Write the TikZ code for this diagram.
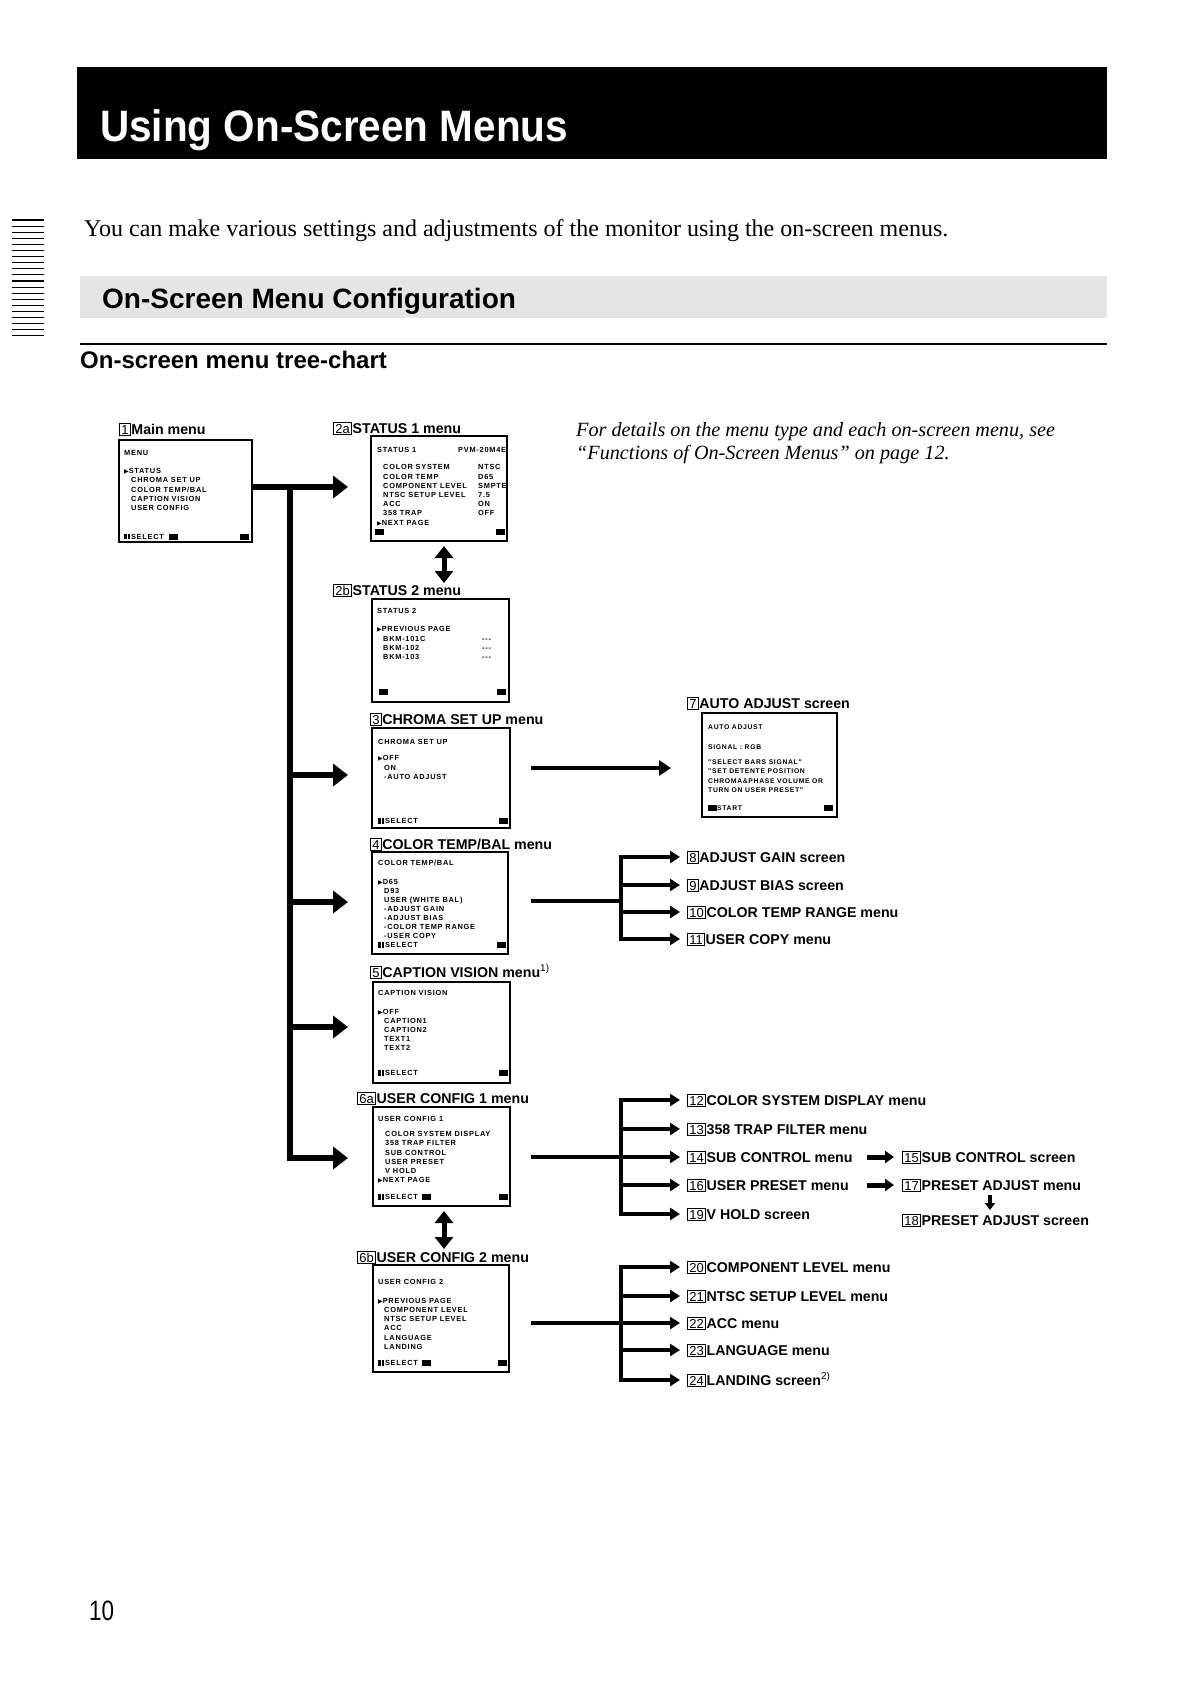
\documentclass[tikz,border=0pt]{standalone}
\usepackage{fontspec}
\usetikzlibrary{arrows.meta,calc}
\newfontfamily\lsans{Liberation Sans}
\newfontfamily\lserif{Liberation Serif}
\newfontfamily\scrf[LetterSpace=10]{Liberation Sans}
\newfontfamily\dvs{DejaVu Sans}
\newcommand\scrfont{\scrf\bfseries\fontsize{7.4}{7.4}\selectfont}
\newcommand\scrfontsm{\scrf\bfseries\fontsize{6.8}{6.8}\selectfont}
\newcommand\lblfont{\lsans\bfseries\fontsize{14.2}{14.2}\selectfont}
\newcommand\nb[1]{{\setlength\fboxsep{0pt}\setlength\fboxrule{0.7pt}\fbox{\rule[-1.4pt]{0pt}{11.6pt}\kern1.4pt{\lsans\mdseries\fontsize{13}{13}\selectfont #1}\kern1.4pt}}\kern0.8pt}
\newcommand\mk{{\dvs\fontsize{6}{6}\selectfont ▶}}
\newcommand\ico{\rule[-0.6pt]{9pt}{6pt}}
\newcommand\sel{\rule{2.8pt}{5.2pt}\kern0.6pt\rule{2.8pt}{5.2pt}\kern0.6pt}
\begin{document}
\begin{tikzpicture}[x=1pt,y=-1pt,
  scrbox/.style={draw, line width=1.1pt, anchor=north west, inner sep=0pt, outer sep=0pt},
  scr/.style={anchor=base west, inner sep=0pt, font=\scrfont},
  scrsm/.style={anchor=base west, inner sep=0pt, font=\scrfontsm},
  lbl/.style={anchor=base west, inner sep=0pt, font=\lblfont},
  trunk/.style={line width=6.5pt, -{Triangle[length=15pt,width=22pt]}},
  trunkline/.style={line width=6.5pt, line cap=rect},
  midarrow/.style={line width=4.5pt, -{Triangle[length=12pt,width=15pt]}},
  brline/.style={line width=4.5pt, line cap=rect},
  brfeed/.style={line width=4.5pt},
  brarrow/.style={line width=4pt, -{Triangle[length=10pt,width=12pt]}},
  sharrow/.style={line width=5pt, -{Triangle[length=9pt,width=12pt]}},
  dnarrow/.style={line width=3.5pt, -{Triangle[length=7pt,width=10pt]}},
  dbl/.style={line width=5pt, {Triangle[length=12pt,width=18pt]}-{Triangle[length=12pt,width=18pt]}}
]
\useasboundingbox (0,0) rectangle (1191,1683);
\fill[white] (0,0) rectangle (1191,1683);

% ---------- header ----------
\node[fill=black, minimum width=1030pt, minimum height=92pt, anchor=north west, inner sep=0pt] (titlebar) at (77,67) {};
\node[anchor=base west, inner sep=0pt, text=white, font=\lsans\bfseries\fontsize{44}{44}\selectfont] (title) at (100,142) {\scalebox{0.92}[1]{Using On-Screen Menus}};
\foreach \k in {0,...,19} \draw[line width=1.1pt] (12,{220+\k*6.1}) -- (44,{220+\k*6.1});
\node[anchor=base west, inner sep=0pt, font=\lserif\fontsize{24}{24}\selectfont] (intro) at (84,236) {You can make various settings and adjustments of the monitor using the on-screen menus.};
\node[fill=gray!20, minimum width=1027pt, minimum height=42pt, anchor=north west, inner sep=0pt] (confbar) at (80,276) {};
\node[anchor=base west, inner sep=0pt, font=\lsans\bfseries\fontsize{28}{28}\selectfont] (conf) at (102,308) {On-Screen Menu Configuration};
\draw[line width=1.4pt] (80,344) -- (1107,344);
\node[anchor=base west, inner sep=0pt, font=\lsans\bfseries\fontsize{24}{24}\selectfont] (sub) at (80,368) {On-screen menu tree-chart};
\node[anchor=base west, inner sep=0pt, font=\lserif\itshape\fontsize{20.2}{20.2}\selectfont] (it1) at (576,436) {For details on the menu type and each on-screen menu, see};
\node[anchor=base west, inner sep=0pt, font=\lserif\itshape\fontsize{20.2}{20.2}\selectfont] (it2) at (576,459) {“Functions of On-Screen Menus” on page 12.};
\node[anchor=base west, inner sep=0pt, font=\lsans\fontsize{28}{28}\selectfont] (pageno) at (89,1620) {\scalebox{0.8}[1]{10}};

% ---------- labels ----------
\node[lbl] (l1) at (119,434) {\nb{1}Main menu};
\node[lbl] (l2a) at (333,433) {\nb{2a}STATUS 1 menu};
\node[lbl] (l2b) at (333,595) {\nb{2b}STATUS 2 menu};
\node[lbl] (l3) at (370,724) {\nb{3}CHROMA SET UP menu};
\node[lbl] (l4) at (370,849) {\nb{4}COLOR TEMP/BAL menu};
\node[lbl] (l5) at (370,977) {\nb{5}CAPTION VISION menu\textsuperscript{\mdseries 1)}};
\node[lbl] (l6a) at (357,1103) {\nb{6a}USER CONFIG 1 menu};
\node[lbl] (l6b) at (357,1262) {\nb{6b}USER CONFIG 2 menu};
\node[lbl] (l7) at (687,708) {\nb{7}AUTO ADJUST screen};

% ---------- screens ----------
% 1 main menu
\node[scrbox, minimum width=133pt, minimum height=102pt] (m1) at (119,440) {};
\foreach \yv/\tv [count=\i] in {455/MENU, 473.5/\mk STATUS, 539/\sel SELECT\hspace{5pt}\ico}
  \node[scr] (m1a\i) at (124,\yv) {\tv};
\foreach \yv/\tv [count=\i] in {482.5/CHROMA SET UP, 492/{COLOR TEMP/BAL}, 501/CAPTION VISION, 510/USER CONFIG}
  \node[scr] (m1b\i) at (131,\yv) {\tv};
\node[scr] (m1ic) at (240,539) {\ico};

% 2a status 1
\node[scrbox, minimum width=136pt, minimum height=105pt] (s2a) at (371,436) {};
\foreach \yv/\tv [count=\i] in {452.5/STATUS 1, 525.5/\mk NEXT PAGE}
  \node[scr] (s2aa\i) at (377,\yv) {\tv};
\node[scr] (s2amod) at (458,452.5) {PVM-20M4E};
\foreach \yv/\tv [count=\i] in {469.5/COLOR SYSTEM, 479/COLOR TEMP, 488.5/COMPONENT LEVEL, 497.5/NTSC SETUP LEVEL, 506.5/ACC, 515.5/358 TRAP}
  \node[scr] (s2ab\i) at (383,\yv) {\tv};
\foreach \yv/\tv [count=\i] in {469.5/NTSC, 479/D65, 488.5/SMPTE, 497.5/7.5, 506.5/ON, 515.5/OFF}
  \node[scr] (s2ac\i) at (478,\yv) {\tv};
\node[scr] (s2aic1) at (375,534.5) {\ico};
\node[scr] (s2aic2) at (496,534.5) {\ico};

% 2b status 2
\node[scrbox, minimum width=137pt, minimum height=103pt] (s2b) at (372,599) {};
\foreach \yv/\tv [count=\i] in {613.5/STATUS 2, 631.5/\mk PREVIOUS PAGE}
  \node[scr] (s2ba\i) at (377,\yv) {\tv};
\foreach \yv/\tv [count=\i] in {641.5/BKM-101C, 650.5/BKM-102, 659.5/BKM-103}
  \node[scr] (s2bb\i) at (383,\yv) {\tv};
\foreach \yv [count=\i] in {641.5, 650.5, 659.5}
  \node[scr] (s2bc\i) at (482,\yv) {-{}-{}-};
\node[scr] (s2bic1) at (379,694.5) {\ico};
\node[scr] (s2bic2) at (497,694.5) {\ico};

% 3 chroma set up
\node[scrbox, minimum width=138pt, minimum height=100pt] (s3) at (372,728) {};
\foreach \yv/\tv [count=\i] in {744.5/CHROMA SET UP, 760.5/\mk OFF, 823.5/\sel SELECT}
  \node[scr] (s3a\i) at (378,\yv) {\tv};
\foreach \yv/\tv [count=\i] in {770/ON, 779.5/-AUTO ADJUST}
  \node[scr] (s3b\i) at (384,\yv) {\tv};
\node[scr] (s3ic) at (499,823.5) {\ico};

% 4 color temp/bal
\node[scrbox, minimum width=136pt, minimum height=102pt] (s4) at (372,852) {};
\foreach \yv/\tv [count=\i] in {865.5/{COLOR TEMP/BAL}, 884.5/\mk D65, 947.5/\sel SELECT}
  \node[scr] (s4a\i) at (378,\yv) {\tv};
\foreach \yv/\tv [count=\i] in {893.5/D93, 902.5/{USER (WHITE BAL)}, 911.5/-ADJUST GAIN, 920.5/-ADJUST BIAS, 929.5/-COLOR TEMP RANGE, 938.5/-USER COPY}
  \node[scr] (s4b\i) at (384,\yv) {\tv};
\node[scr] (s4ic) at (497,947.5) {\ico};

% 5 caption vision
\node[scrbox, minimum width=137pt, minimum height=101pt] (s5) at (373,982) {};
\foreach \yv/\tv [count=\i] in {995.5/CAPTION VISION, 1014.5/\mk OFF, 1075.5/\sel SELECT}
  \node[scr] (s5a\i) at (378,\yv) {\tv};
\foreach \yv/\tv [count=\i] in {1023.5/CAPTION1, 1032.5/CAPTION2, 1041.5/TEXT1, 1050.5/TEXT2}
  \node[scr] (s5b\i) at (384,\yv) {\tv};
\node[scr] (s5ic) at (499,1075.5) {\ico};

% 6a user config 1
\node[scrbox, minimum width=137pt, minimum height=99pt] (s6a) at (373,1107) {};
\foreach \yv/\tv [count=\i] in {1121.5/USER CONFIG 1, 1182.5/\mk NEXT PAGE, 1199.5/\sel SELECT\hspace{4pt}\ico}
  \node[scr] (s6aa\i) at (378,\yv) {\tv};
\foreach \yv/\tv [count=\i] in {1136.5/COLOR SYSTEM DISPLAY, 1145.5/358 TRAP FILTER, 1155/SUB CONTROL, 1164.5/USER PRESET, 1173.5/V HOLD}
  \node[scr] (s6ab\i) at (385,\yv) {\tv};
\node[scr] (s6aic) at (499,1199.5) {\ico};

% 6b user config 2
\node[scrbox, minimum width=136pt, minimum height=107pt] (s6b) at (373,1265) {};
\foreach \yv/\tv [count=\i] in {1284/USER CONFIG 2, 1303/\mk PREVIOUS PAGE, 1365.5/\sel SELECT\hspace{4pt}\ico}
  \node[scr] (s6ba\i) at (378,\yv) {\tv};
\foreach \yv/\tv [count=\i] in {1312/COMPONENT LEVEL, 1321/NTSC SETUP LEVEL, 1330/ACC, 1340/LANGUAGE, 1349/LANDING}
  \node[scr] (s6bb\i) at (384,\yv) {\tv};
\node[scr] (s6bic) at (498,1365.5) {\ico};

% 7 auto adjust
\node[scrbox, minimum width=135pt, minimum height=104pt] (s7) at (702,713) {};
\foreach \yv/\tv [count=\i] in {729.5/AUTO ADJUST, 749.5/SIGNAL : RGB, 764.5/"SELECT BARS SIGNAL", 773.5/"SET DETENTE POSITION, 783.5/CHROMA\&PHASE VOLUME OR, 792.5/TURN ON USER PRESET", 810.5/\ico START}
  \node[scrsm] (s7a\i) at (708,\yv) {\tv};
\node[scr] (s7ic) at (824,810.5) {\ico};

% ---------- trunk ----------
\coordinate (tkt) at (290,487);
\coordinate (tkb) at (290,1158);
\coordinate (a2a) at (348,487);
\coordinate (tk3) at (290,775);  \coordinate (a3) at (348,775);
\coordinate (tk4) at (290,902);  \coordinate (a4) at (348,902);
\coordinate (tk5) at (290,1027); \coordinate (a5) at (348,1027);
\coordinate (a6a) at (348,1158);
\draw[trunkline] (tkt) -- (tkb);
\draw[trunk] (m1.east |- tkt) -- (a2a);
\draw[trunk] (tk3) -- (a3);
\draw[trunk] (tk4) -- (a4);
\draw[trunk] (tk5) -- (a5);
\draw[trunk] (tkb) -- (a6a);

% page arrows
\coordinate (d1t) at (444,546); \coordinate (d1b) at (444,583);
\draw[dbl] (d1t) -- (d1b);
\coordinate (d2t) at (444,1211); \coordinate (d2b) at (444,1249);
\draw[dbl] (d2t) -- (d2b);

% 3 -> 7
\coordinate (r3) at (531,768); \coordinate (a7) at (671,768);
\draw[midarrow] (r3) -- (a7);

% ---------- branch from 4 ----------
\coordinate (b4in) at (531,901); \coordinate (b4) at (621,901);
\draw[brfeed] (b4in) -- (b4);
\draw[brline] (621,857) -- (621,939);
\foreach \yv in {857,885,912,939} \draw[brarrow] (621,\yv) -- (680,\yv);
\node[lbl] (l8) at (687,862) {\nb{8}ADJUST GAIN screen};
\node[lbl] (l9) at (687,890) {\nb{9}ADJUST BIAS screen};
\node[lbl] (l10) at (687,917) {\nb{10}COLOR TEMP RANGE menu};
\node[lbl] (l11) at (687,944) {\nb{11}USER COPY menu};

% ---------- branch from 6a ----------
\coordinate (b6in) at (531,1157); \coordinate (b6) at (621,1157);
\draw[brfeed] (b6in) -- (b6);
\draw[brline] (621,1100) -- (621,1214);
\foreach \yv in {1100,1129,1157,1185,1214} \draw[brarrow] (621,\yv) -- (680,\yv);
\node[lbl] (l12) at (687,1105) {\nb{12}COLOR SYSTEM DISPLAY menu};
\node[lbl] (l13) at (687,1134) {\nb{13}358 TRAP FILTER menu};
\node[lbl] (l14) at (687,1162) {\nb{14}SUB CONTROL menu};
\node[lbl] (l16) at (687,1190) {\nb{16}USER PRESET menu};
\node[lbl] (l19) at (687,1219) {\nb{19}V HOLD screen};
\node[lbl] (l15) at (902,1162) {\nb{15}SUB CONTROL screen};
\node[lbl] (l17) at (902,1190) {\nb{17}PRESET ADJUST menu};
\node[lbl] (l18) at (902,1225) {\nb{18}PRESET ADJUST screen};
\coordinate (c14) at (867,1157); \coordinate (c15) at (894,1157);
\coordinate (c16) at (867,1185); \coordinate (c17) at (894,1185);
\draw[sharrow] (c14) -- (c15);
\draw[sharrow] (c16) -- (c17);
\coordinate (c17d) at (990,1195); \coordinate (c18u) at (990,1210);
\draw[dnarrow] (c17d) -- (c18u);

% ---------- branch from 6b ----------
\coordinate (b6bin) at (531,1323); \coordinate (b6b) at (621,1323);
\draw[brfeed] (b6bin) -- (b6b);
\draw[brline] (621,1267) -- (621,1380);
\foreach \yv in {1267,1296,1323,1350,1380} \draw[brarrow] (621,\yv) -- (680,\yv);
\node[lbl] (l20) at (687,1272) {\nb{20}COMPONENT LEVEL menu};
\node[lbl] (l21) at (687,1301) {\nb{21}NTSC SETUP LEVEL menu};
\node[lbl] (l22) at (687,1328) {\nb{22}ACC menu};
\node[lbl] (l23) at (687,1355) {\nb{23}LANGUAGE menu};
\node[lbl] (l24) at (687,1385) {\nb{24}LANDING screen\textsuperscript{\mdseries 2)}};
\end{tikzpicture}
\end{document}
